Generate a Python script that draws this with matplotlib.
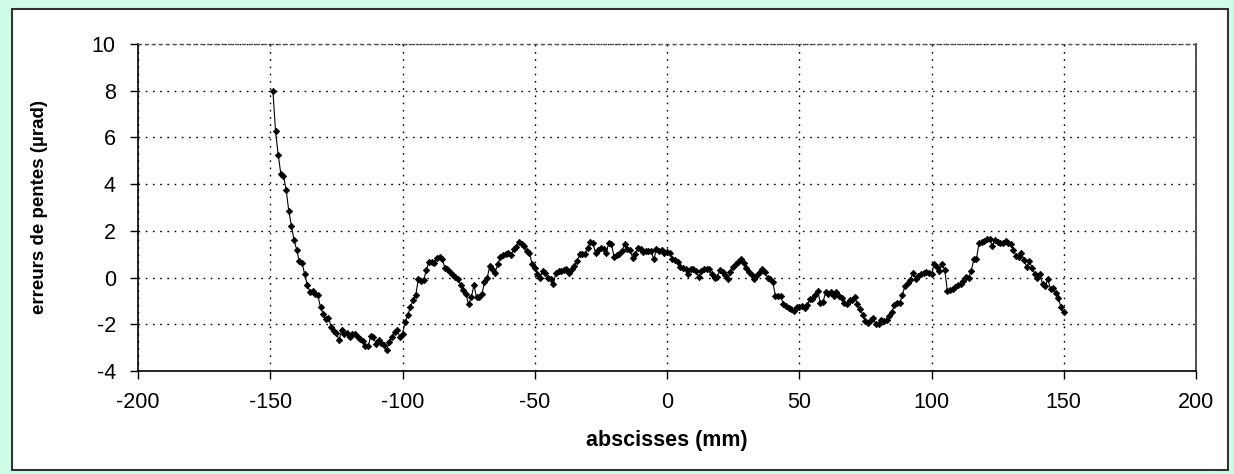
import numpy as np
import matplotlib
matplotlib.use("Agg")
import matplotlib.pyplot as plt
from matplotlib.patches import Rectangle

# abscissa of each measurement (mm), one point per millimetre
positions_mm = np.arange(-149, 151)

# slope errors (µrad), ten measurements per row
slope_errors = [
    8.0, 6.26, 5.26, 4.44, 4.37, 3.76, 2.86, 2.21, 1.61, 1.19,
    0.69, 0.64, 0.15, -0.31, -0.60, -0.56, -0.70, -0.76, -1.27, -1.55,
    -1.79, -1.71, -2.10, -2.27, -2.37, -2.69, -2.23, -2.40, -2.37, -2.54,
    -2.40, -2.40, -2.54, -2.61, -2.71, -2.94, -2.94, -2.51, -2.54, -2.83,
    -2.69, -2.80, -2.90, -3.11, -2.76, -2.54, -2.33, -2.26, -2.54, -2.40,
    -1.90, -1.61, -1.26, -0.97, -0.75, -0.07, -0.14, -0.10, 0.31, 0.68,
    0.67, 0.64, 0.85, 0.87, 0.80, 0.43, 0.35, 0.24, 0.10, 0.04,
    -0.07, -0.31, -0.52, -0.71, -1.15, -0.85, -0.33, -0.85, -0.85, -0.71,
    -0.21, -0.03, 0.50, 0.38, 0.21, 0.57, 0.88, 0.95, 0.99, 1.04,
    0.95, 1.23, 1.30, 1.53, 1.45, 1.35, 1.13, 1.06, 0.57, 0.43,
    0.14, -0.01, 0.28, 0.18, -0.01, -0.07, -0.28, 0.21, 0.28, 0.30,
    0.31, 0.35, 0.21, 0.35, 0.50, 0.71, 0.99, 1.02, 1.02, 1.28,
    1.52, 1.49, 1.04, 1.18, 1.28, 1.21, 1.06, 1.49, 1.42, 0.88,
    0.95, 1.02, 1.15, 1.42, 1.21, 1.18, 0.85, 0.99, 1.28, 1.21,
    1.09, 1.13, 1.13, 1.13, 0.78, 1.21, 1.13, 1.18, 1.06, 1.09,
    1.04, 0.81, 0.75, 0.67, 0.45, 0.43, 0.35, 0.14, 0.35, 0.38,
    0.28, 0.04, 0.28, 0.35, 0.38, 0.35, 0.15, 0.0, 0.04, 0.33,
    0.24, 0.10, -0.07, 0.25, 0.47, 0.60, 0.67, 0.78, 0.61, 0.43,
    0.25, 0.10, -0.07, 0.10, 0.25, 0.35, 0.24, 0.0, -0.07, -0.21,
    -0.78, -0.78, -0.81, -1.13, -1.23, -1.30, -1.35, -1.42, -1.28, -1.28,
    -1.23, -1.32, -1.18, -0.92, -0.92, -0.75, -0.57, -1.09, -1.04, -0.61,
    -0.71, -0.61, -0.81, -0.60, -0.80, -0.88, -1.10, -1.15, -0.98, -0.95,
    -0.83, -1.15, -1.35, -1.60, -1.85, -1.94, -1.80, -1.75, -2.0, -2.0,
    -1.80, -1.85, -1.80, -1.65, -1.46, -1.17, -1.09, -1.09, -0.73, -0.34,
    -0.22, -0.10, 0.19, -0.04, 0.07, 0.15, 0.20, 0.22, 0.19, 0.14,
    0.58, 0.44, 0.29, 0.57, 0.33, -0.57, -0.52, -0.50, -0.40, -0.33,
    -0.28, -0.14, 0.04, 0.0, 0.28, 0.78, 0.81, 1.49, 1.52, 1.56,
    1.63, 1.63, 1.35, 1.60, 1.52, 1.46, 1.46, 1.56, 1.49, 1.42,
    1.18, 0.92, 0.89, 1.06, 0.75, 0.45, 0.70, 0.43, 0.14, 0.0,
    0.14, -0.28, -0.35, -0.07, -0.50, -0.43, -0.67, -0.89, -1.28, -1.49,
]

x_ticks = [-200, -150, -100, -50, 0, 50, 100, 150, 200]
y_ticks = [-4, -2, 0, 2, 4, 6, 8, 10]

plt.rcParams["font.family"] = ["Liberation Sans", "DejaVu Sans"]
plt.rcParams["axes.unicode_minus"] = False

fig = plt.figure(figsize=(12.34, 4.74), dpi=100, facecolor="#cffde8")

# white chart area with a dark frame, kept behind the axes
W, H = 1234, 474
fig.patches.append(Rectangle((12 / W, 4 / H), 1216 / W, 461 / H,
                             transform=fig.transFigure, facecolor="white",
                             edgecolor="#333333", linewidth=1.5, zorder=-10))

ax_left, ax_right, ax_top, ax_bottom = 138, 1196, 44, 371
ax = fig.add_axes([ax_left / W, (H - ax_bottom) / H,
                   (ax_right - ax_left) / W, (ax_bottom - ax_top) / H])
ax.set_zorder(1)
ax.set_facecolor("white")

ax.plot(positions_mm, slope_errors, color="black", linewidth=0.8,
        marker="D", markersize=3.3, markerfacecolor="black",
        markeredgecolor="black", markeredgewidth=0.5, zorder=3)

ax.set_xlim(-200, 200)
ax.set_ylim(-4, 10)
ax.set_xticks(x_ticks)
ax.set_yticks(y_ticks)
ax.tick_params(axis="both", direction="out", length=6, width=1,
               labelsize=15.5, colors="black")
ax.tick_params(axis="y", pad=10)
ax.tick_params(axis="x", pad=9)

ax.grid(True, color="black", linestyle=(0, (1.2, 4)), linewidth=1.0)
ax.set_axisbelow(True)

for side in ("left", "bottom"):
    ax.spines[side].set_color("black")
    ax.spines[side].set_linewidth(1.2)
ax.spines["right"].set_color("#333333")
ax.spines["right"].set_linewidth(1.2)
ax.spines["top"].set_color("#555555")
ax.spines["top"].set_linestyle((0, (2, 3)))
ax.spines["top"].set_linewidth(1.0)

plot_w = ax_right - ax_left
plot_h = ax_bottom - ax_top
ax.set_xlabel("abscisses (mm)", fontsize=15.5, fontweight="bold")
ax.xaxis.set_label_coords(0.5, -(430 - ax_bottom) / plot_h)
ax.set_ylabel("erreurs de pentes (µrad)", fontsize=13.5, fontweight="bold")
ax.yaxis.set_label_coords(-(ax_left - 48) / plot_w, 0.5)

fig.savefig("out.png", dpi=100, facecolor=fig.get_facecolor())
